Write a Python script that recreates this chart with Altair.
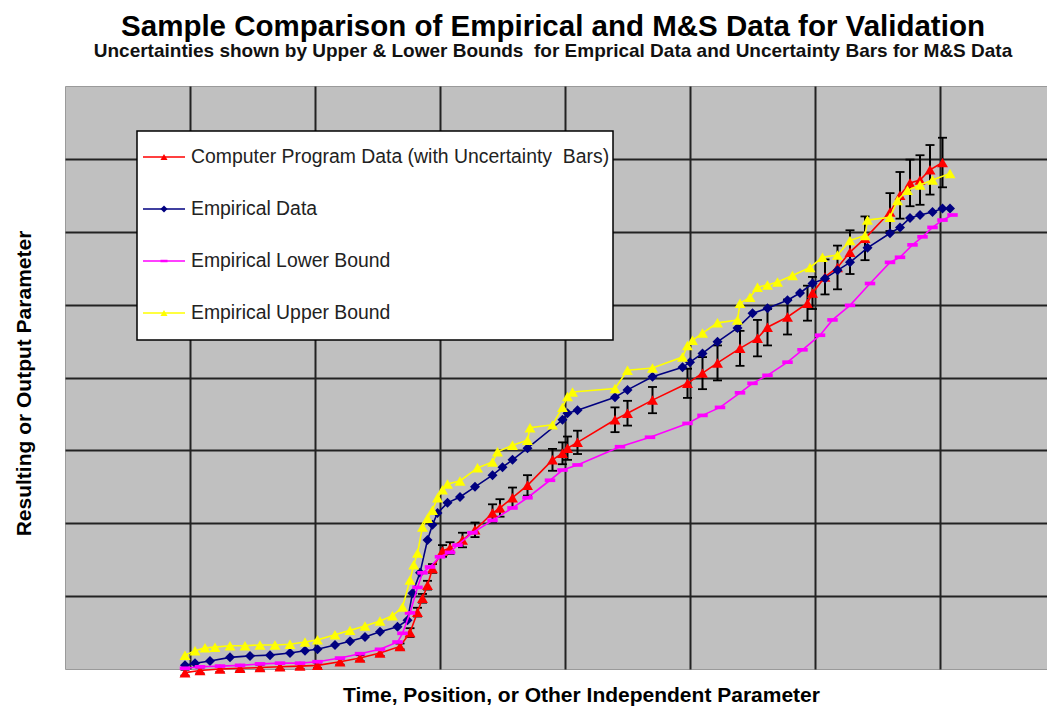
import altair as alt
import pandas as pd

# ---- data ----
names = [
    "Computer Program Data (with Uncertainty\u00a0 Bars)",
    "Empirical Data",
    "Empirical Lower Bound",
    "Empirical Upper Bound",
]
colors = ["#FF0000", "#000080", "#FF00FF", "#FFFF00"]

prog_x = [0.96, 1.08, 1.24, 1.40, 1.56, 1.72, 1.88, 2.02, 2.20, 2.36, 2.52, 2.68, 2.76, 2.82, 2.86,
          2.90, 2.94, 3.02, 3.08, 3.18, 3.28, 3.42, 3.48, 3.58, 3.70, 3.90, 3.98, 4.02, 4.10, 4.40,
          4.50, 4.70, 4.98, 5.10, 5.22, 5.40, 5.54, 5.62, 5.78, 5.94, 5.98, 6.08, 6.18, 6.28, 6.40,
          6.60, 6.68, 6.76, 6.84, 6.92, 7.02]
prog_y = [-0.05, -0.02, 0.00, 0.01, 0.02, 0.03, 0.04, 0.05, 0.10, 0.15, 0.22, 0.31, 0.50, 0.78, 0.97,
          1.15, 1.38, 1.62, 1.66, 1.77, 1.91, 2.14, 2.21, 2.35, 2.52, 2.87, 2.96, 3.03, 3.11, 3.42,
          3.51, 3.69, 3.92, 4.06, 4.20, 4.40, 4.54, 4.69, 4.83, 5.02, 5.16, 5.38, 5.51, 5.72, 5.91,
          6.27, 6.50, 6.67, 6.71, 6.85, 6.95]
prog_err = [0.04, 0.04, 0.04, 0.04, 0.04, 0.04, 0.04, 0.04, 0.04, 0.04, 0.04, 0.04, 0.06, 0.06, 0.06,
            0.06, 0.06, 0.08, 0.08, 0.10, 0.10, 0.12, 0.12, 0.14, 0.14, 0.15, 0.15, 0.16, 0.16, 0.17,
            0.17, 0.18, 0.20, 0.22, 0.24, 0.24, 0.25, 0.25, 0.24, 0.24, 0.22, 0.24, 0.30, 0.30, 0.30,
            0.26, 0.32, 0.32, 0.34, 0.34, 0.34]

emp_x = [0.96, 1.04, 1.16, 1.32, 1.48, 1.64, 1.80, 1.92, 2.02, 2.16, 2.28, 2.40, 2.52, 2.66, 2.74,
         2.78, 2.84, 2.90, 2.94, 2.98, 3.06, 3.16, 3.28, 3.42, 3.50, 3.58, 3.70, 3.98, 4.02, 4.10,
         4.40, 4.50, 4.70, 4.94, 5.00, 5.10, 5.22, 5.38, 5.50, 5.62, 5.78, 5.88, 5.98, 6.08, 6.18,
         6.28, 6.42, 6.60, 6.68, 6.76, 6.84, 6.94, 7.02, 7.08]
emp_y = [0.05, 0.08, 0.11, 0.16, 0.18, 0.19, 0.22, 0.25, 0.27, 0.33, 0.38, 0.44, 0.51, 0.58, 0.67,
         1.04, 1.32, 1.77, 1.98, 2.14, 2.28, 2.36, 2.50, 2.66, 2.77, 2.87, 3.03, 3.42, 3.51, 3.55,
         3.73, 3.83, 4.01, 4.14, 4.21, 4.33, 4.49, 4.68, 4.88, 4.95, 5.06, 5.16, 5.29, 5.36, 5.47,
         5.58, 5.78, 5.98, 6.06, 6.19, 6.23, 6.27, 6.32, 6.32]

low_x = [0.96, 1.08, 1.24, 1.40, 1.56, 1.72, 1.88, 2.02, 2.20, 2.36, 2.52, 2.66, 2.70, 2.76, 2.82,
         2.86, 2.92, 3.00, 3.08, 3.14, 3.26, 3.42, 3.58, 3.70, 3.88, 3.98, 4.10, 4.44, 4.68, 4.98,
         5.10, 5.24, 5.40, 5.50, 5.62, 5.78, 5.90, 6.04, 6.14, 6.28, 6.44, 6.60, 6.68, 6.78, 6.86,
         6.94, 7.02, 7.10]
low_y = [0.01, 0.03, 0.04, 0.05, 0.07, 0.08, 0.08, 0.10, 0.15, 0.21, 0.27, 0.37, 0.49, 0.77, 1.12,
         1.32, 1.40, 1.54, 1.60, 1.70, 1.87, 2.04, 2.21, 2.35, 2.59, 2.73, 2.80, 3.05, 3.18, 3.37,
         3.48, 3.59, 3.79, 3.92, 4.03, 4.21, 4.38, 4.58, 4.79, 4.99, 5.29, 5.58, 5.65, 5.82, 5.93,
         6.06, 6.16, 6.23]

up_x = [0.96, 1.04, 1.12, 1.20, 1.32, 1.44, 1.56, 1.68, 1.80, 1.92, 2.02, 2.16, 2.28, 2.40, 2.52,
        2.62, 2.70, 2.76, 2.79, 2.82, 2.86, 2.90, 2.94, 2.98, 3.02, 3.06, 3.16, 3.30, 3.42, 3.46,
        3.58, 3.70, 3.72, 3.90, 3.98, 4.02, 4.06, 4.40, 4.50, 4.70, 4.94, 4.98, 5.02, 5.10, 5.22,
        5.38, 5.40, 5.48, 5.54, 5.62, 5.70, 5.82, 5.96, 6.06, 6.18, 6.28, 6.40, 6.42, 6.60, 6.66,
        6.74, 6.84, 6.94, 7.08]
up_y = [0.19, 0.25, 0.29, 0.30, 0.32, 0.32, 0.33, 0.33, 0.34, 0.37, 0.40, 0.47, 0.53, 0.59, 0.66,
        0.73, 0.85, 1.22, 1.43, 1.59, 1.95, 2.07, 2.18, 2.35, 2.46, 2.54, 2.58, 2.76, 2.84, 2.98,
        3.07, 3.14, 3.31, 3.35, 3.59, 3.74, 3.80, 3.85, 4.10, 4.13, 4.28, 4.44, 4.51, 4.61, 4.75,
        4.79, 5.02, 5.10, 5.24, 5.27, 5.31, 5.40, 5.51, 5.65, 5.68, 5.88, 5.95, 6.16, 6.20, 6.43,
        6.57, 6.64, 6.71, 6.80]

grid_values = [1, 2, 3, 4, 5, 6, 7]

FONT = "Liberation Sans"
dash_path = "M-1,-0.35L1,-0.35L1,0.35L-1,0.35Z"
shapes = ["triangle-up", "diamond", dash_path, "triangle-up"]

x_axis = alt.Axis(values=grid_values, grid=True, labels=False, ticks=False, domain=False,
                  title="Time, Position, or Other Independent Parameter",
                  titleX=516, titleY=26, titleAlign="center", titleBaseline="middle")
y_axis = alt.Axis(values=grid_values, grid=True, labels=False, ticks=False, domain=False,
                  title="Resulting or Output Parameter",
                  titleX=-41, titleY=297, titleAngle=270, titleAlign="center", titleBaseline="middle")
x_scale = alt.Scale(domain=[0, 7.856], nice=False, zero=False)
y_scale = alt.Scale(domain=[0, 8], nice=False, zero=False)


def X(field="x"):
    return alt.X(f"{field}:Q", scale=x_scale, axis=x_axis)


def Y(field="y"):
    return alt.Y(f"{field}:Q", scale=y_scale, axis=y_axis)


def series(xs, ys, i, size):
    df = pd.DataFrame({"x": xs, "y": ys})
    base = alt.Chart(df).encode(x=X(), y=Y())
    line = base.mark_line(color=colors[i], strokeWidth=1.6)
    pts = base.mark_point(filled=True, shape=shapes[i], size=size, color=colors[i],
                          opacity=1, strokeWidth=0)
    return [line, pts]


prog_df = pd.DataFrame({"x": prog_x, "y": prog_y, "err": prog_err})
err_base = alt.Chart(prog_df).transform_calculate(
    lo="datum.y - datum.err", hi="datum.y + datum.err"
)
err_rule = err_base.mark_rule(color="black", strokeWidth=2).encode(
    x=X(), y=Y("lo"), y2="hi:Q"
)
cap_lo = err_base.mark_tick(orient="horizontal", size=9, thickness=1.8, color="black",
                            opacity=1).encode(x=X(), y=Y("lo"))
cap_hi = err_base.mark_tick(orient="horizontal", size=9, thickness=1.8, color="black",
                            opacity=1).encode(x=X(), y=Y("hi"))

layers = [err_rule, cap_lo, cap_hi]
layers += series(prog_x, prog_y, 0, 120)
layers += series(emp_x, emp_y, 1, 100)
layers += series(low_x, low_y, 2, 110)
layers += series(up_x, up_y, 3, 120)
main = alt.layer(*layers)

# ---- legend box ----
leg_df = pd.DataFrame({"series": names})
leg_y = alt.Y("series:N", sort=names,
              scale=alt.Scale(type="point", domain=names, range=[71, 227], padding=0),
              axis=None)
leg_color = alt.Color("series:N", scale=alt.Scale(domain=names, range=colors), legend=None)
leg_shape = alt.Shape("series:N", scale=alt.Scale(domain=names, range=shapes), legend=None)

box = alt.Chart(pd.DataFrame({"k": [0]})).mark_rect(
    fill="white", stroke="black", strokeWidth=1.5
).encode(x=alt.value(72), x2=alt.value(548), y=alt.value(45), y2=alt.value(254))
leg_line = alt.Chart(leg_df).mark_rule(strokeWidth=1.6).encode(
    x=alt.value(78), x2=alt.value(120), y=leg_y, color=leg_color
)
leg_pts = alt.Chart(leg_df).mark_point(filled=True, size=50, opacity=1, strokeWidth=0).encode(
    x=alt.value(99), y=leg_y, color=leg_color, shape=leg_shape
)
leg_txt = alt.Chart(leg_df).mark_text(
    align="left", baseline="middle", font=FONT, fontSize=19.4, color="#222222"
).encode(x=alt.value(126), y=leg_y, text="series:N")
legend = alt.layer(box, leg_line, leg_pts, leg_txt)

chart = alt.layer(main, legend).resolve_scale(y="independent").properties(
    width=982,
    height=583,
    autosize=alt.AutoSizeParams(type="none"),
    padding={"left": 57, "top": 78, "right": 0, "bottom": 37},
    background="white",
    title=alt.TitleParams(
        text="Sample Comparison of Empirical and M&S Data for Validation",
        subtitle="Uncertainties shown by Upper & Lower Bounds\u00a0 for Emprical Data and Uncertainty Bars for M&S Data",
        font=FONT, fontSize=29.5, fontWeight="bold", color="black",
        subtitleFont=FONT, subtitleFontSize=19, subtitleFontWeight="bold", subtitleColor="#111111",
        anchor="middle", dx=-3, offset=24, subtitlePadding=0,
    ),
).configure_view(
    fill="#C0C0C0", stroke="#9A9A9A", strokeWidth=1
).configure_axis(
    gridColor="#222222", gridWidth=2, gridOpacity=1,
    titleFont=FONT, titleFontSize=21, titleFontWeight="bold", titleColor="black",
)

chart.save("out.html", embed_options={"renderer": "svg", "actions": False})
